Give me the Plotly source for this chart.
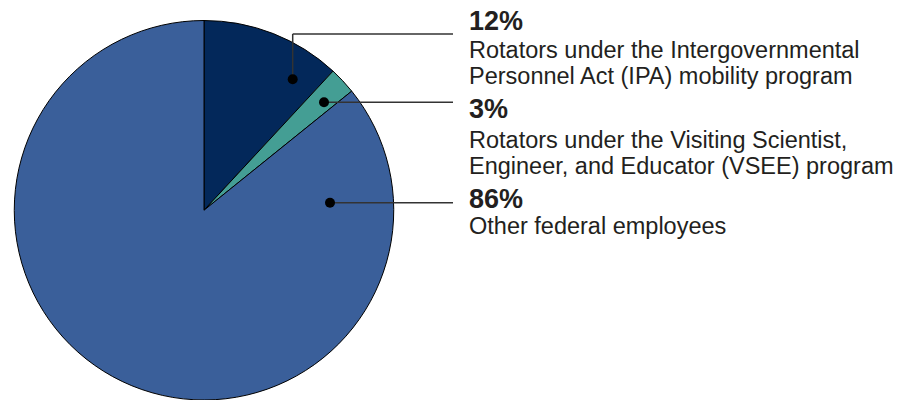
import plotly.graph_objects as go

labels = ["Rotators under the Intergovernmental Personnel Act (IPA) mobility program",
          "Rotators under the Visiting Scientist, Engineer, and Educator (VSEE) program",
          "Other federal employees"]
values = [11.9, 2.3, 85.8]
pct_labels = ["12%", "3%", "86%"]
desc_lines = [["Rotators under the Intergovernmental", "Personnel Act (IPA) mobility program"],
              ["Rotators under the Visiting Scientist,", "Engineer, and Educator (VSEE) program"],
              ["Other federal employees"]]
colors = ["#03285a", "#449e94", "#3a5f9a"]

W, H = 917, 400
fig = go.Figure()
fig.add_trace(go.Pie(
    labels=labels, values=values, sort=False, direction="clockwise", rotation=0,
    marker=dict(colors=colors, line=dict(color="#000000", width=1)),
    textinfo="none", hoverinfo="label+percent", showlegend=False,
    domain=dict(x=[13 / W, 395 / W], y=[0, 1 - 20.5 / H]),
))

def px(x):
    return x / W

def py(y):
    return 1 - y / H

line_color = "#333333"
leaders = [
    [(292.7, 79.3), (292.7, 34), (453, 34)],
    [(324, 102.3), (453, 102.3)],
    [(330, 202.7), (453, 202.7)],
]
shapes = []
for pts in leaders:
    for (x0, y0), (x1, y1) in zip(pts[:-1], pts[1:]):
        shapes.append(dict(type="line", xref="paper", yref="paper",
                           x0=px(x0), y0=py(y0), x1=px(x1), y1=py(y1),
                           line=dict(color=line_color, width=1.5)))
    dx, dy = pts[0]
    r = 5
    shapes.append(dict(type="circle", xref="paper", yref="paper",
                       x0=px(dx - r), x1=px(dx + r), y0=py(dy - r), y1=py(dy + r),
                       fillcolor="#000000", line=dict(color="#000000", width=0)))

font_family = "Arial, Liberation Sans, sans-serif"
text_color = "#231f20"
pct_y = [20.8, 109.2, 199.0]
desc_y = [[50.5, 75.8], [140.2, 165.8], [226.0]]
annotations = []
for p, py_, lines, ys in zip(pct_labels, pct_y, desc_lines, desc_y):
    annotations.append(dict(text="<b>" + p + "</b>", x=px(468), y=py(py_), xref="paper", yref="paper",
                            xanchor="left", yanchor="middle", showarrow=False, borderpad=0,
                            font=dict(size=27, family=font_family, color=text_color)))
    for ln, ly in zip(lines, ys):
        annotations.append(dict(text=ln, x=px(468), y=py(ly), xref="paper", yref="paper",
                                xanchor="left", yanchor="middle", showarrow=False, borderpad=0,
                                font=dict(size=23.5, family=font_family, color=text_color)))

fig.update_layout(width=W, height=H, margin=dict(l=0, r=0, t=0, b=0),
                  paper_bgcolor="white", plot_bgcolor="white",
                  shapes=shapes, annotations=annotations)
fig.write_html("out.html")
